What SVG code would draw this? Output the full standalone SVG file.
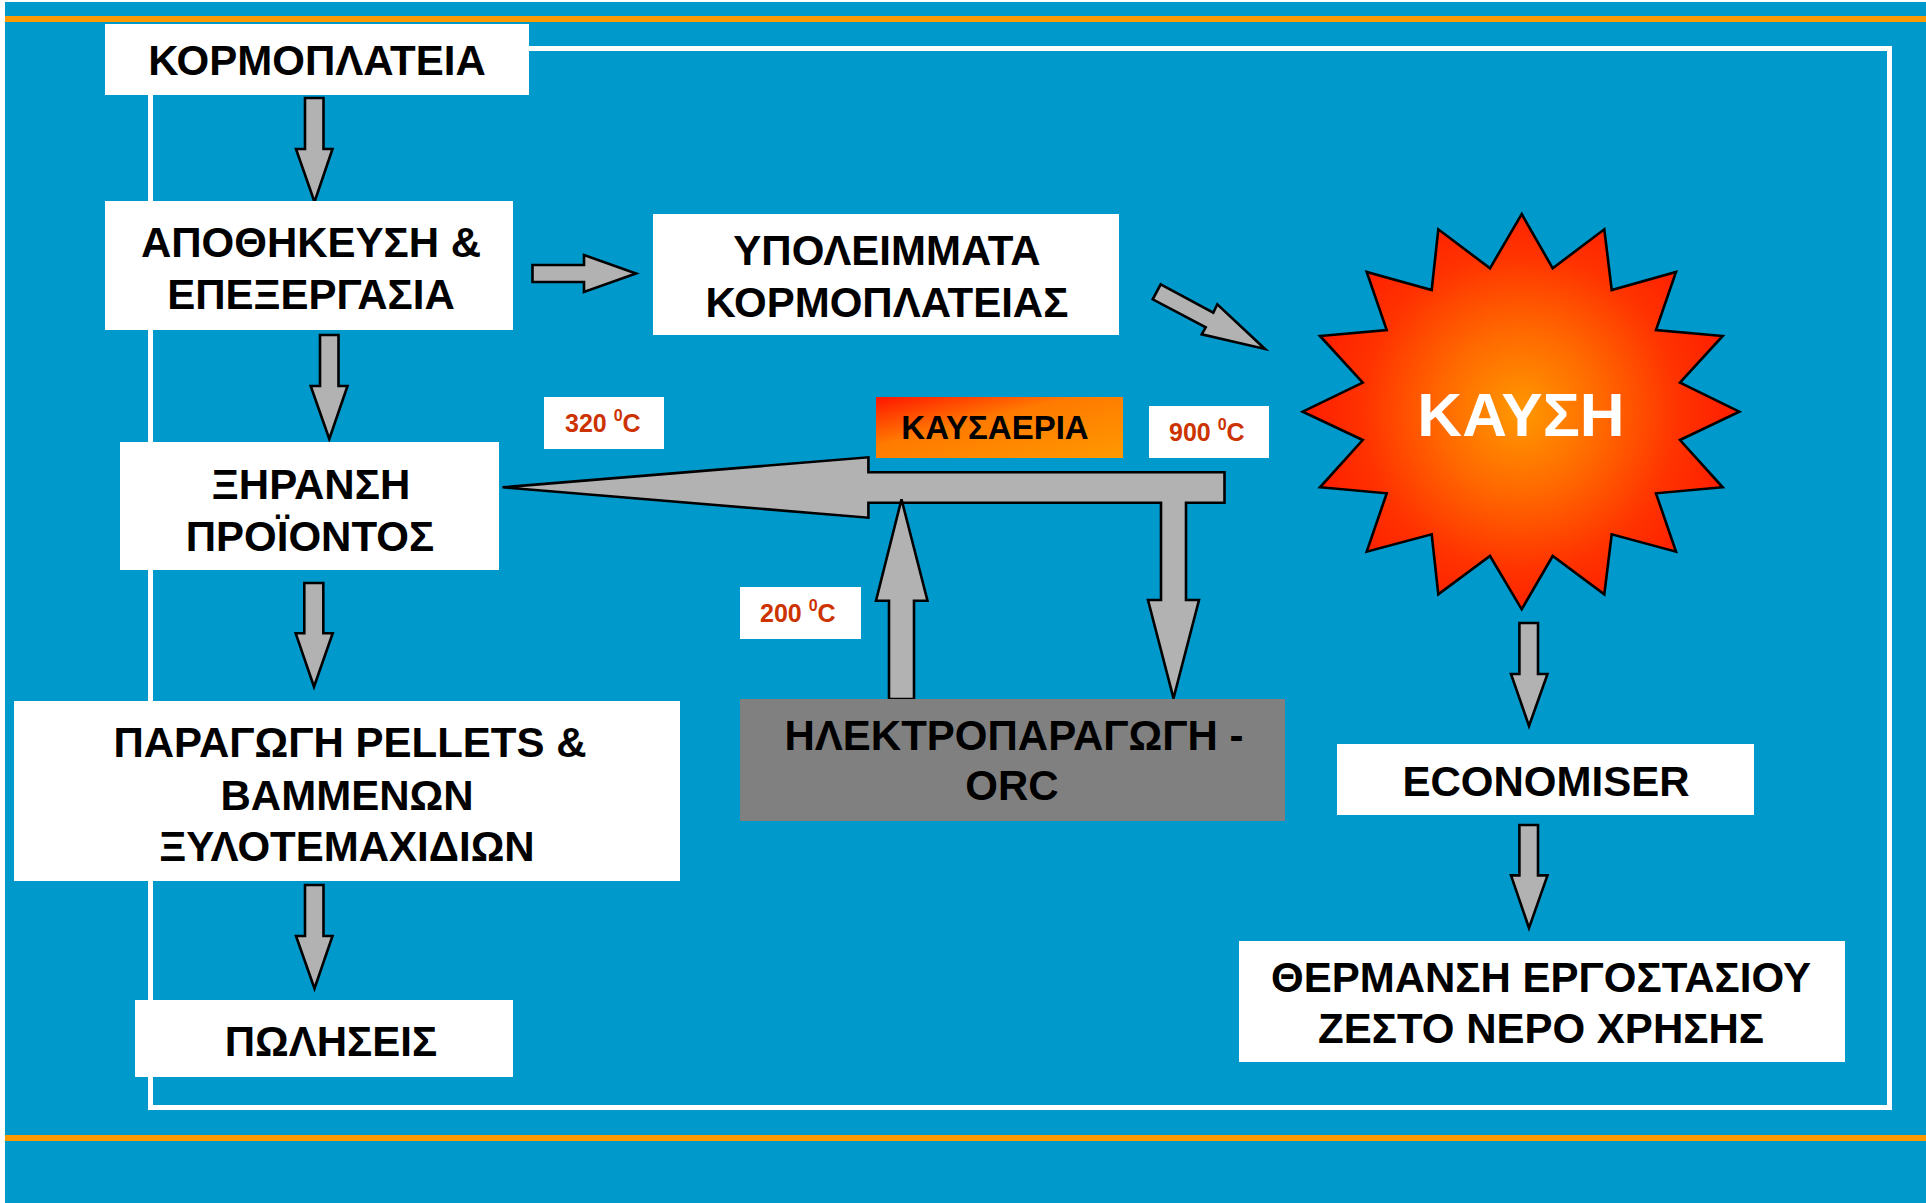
<svg xmlns="http://www.w3.org/2000/svg" width="1926" height="1203" viewBox="0 0 1926 1203">
<defs>
<style>
.box{fill:#ffffff;}
.lbl{font-family:"Liberation Sans",Arial,sans-serif;font-weight:bold;font-size:42px;fill:#000000;text-anchor:middle;}
.temp{font-family:"Liberation Sans",Arial,sans-serif;font-weight:bold;font-size:25px;fill:#CC3300;}
.sup{font-size:16px;}
.arrow{fill:#B2B2B2;stroke:#000000;stroke-width:2.6;stroke-linejoin:miter;}
</style>
<linearGradient id="gasGrad" x1="0" y1="0" x2="1" y2="1">
<stop offset="0" stop-color="#FF1500"/>
<stop offset="0.4" stop-color="#FF7A00"/>
<stop offset="1" stop-color="#FF9900"/>
</linearGradient>
<radialGradient id="fireGrad" gradientUnits="userSpaceOnUse" cx="1521" cy="412" r="225">
<stop offset="0" stop-color="#FF9900"/>
<stop offset="0.35" stop-color="#FF6A00"/>
<stop offset="0.7" stop-color="#FF3300"/>
<stop offset="1" stop-color="#FF1A00"/>
</radialGradient>
</defs>

<g id="background">
<rect x="0" y="0" width="1926" height="1203" fill="#ffffff"/>
<rect x="5" y="2" width="1921" height="1201" fill="#0099CC"/>
<rect x="5" y="16" width="1921" height="6" fill="#FF9900"/>
<rect x="5" y="1135" width="1921" height="6" fill="#FF9900"/>
<rect x="150.5" y="48.5" width="1739" height="1059" fill="none" stroke="#ffffff" stroke-width="5"/>
</g>

<g id="connectors">
<polygon class="arrow" points="305,98 323.5,98 323.5,149 332.5,149 314.5,202 296,149 305,149"/>
<polygon class="arrow" points="532.5,265 584,265 584,255 636,273.5 584,292 584,282 532.5,282"/>
<polygon class="arrow" points="320,335 338.5,335 338.5,386 347.5,386 329.3,439 310.7,386 320,386"/>
<polygon class="arrow" points="304.3,583 323.3,583 323.3,633.3 332.7,633.3 314,686.7 295.7,633.3 304.3,633.3"/>
<polygon class="arrow" points="305,885 323.5,885 323.5,936 332.5,936 314.5,988.5 296,936 305,936"/>
<polygon class="arrow" points="1160.7,284.3 1213.3,312.7 1217.3,304.3 1265,349 1201.7,334.3 1205.7,327.3 1152.7,299.3"/>
<polygon class="arrow" points="502.5,487.3 868.4,457.3 868.4,472.3 1224.5,472.3 1224.5,502.7 1186,502.7 1186,600 1199,600 1173.5,698.3 1148,600 1161,600 1161,502.7 868.4,502.7 868.4,517.7"/>
<polygon class="arrow" points="889,699 889,600.7 876,600.7 901.5,499.3 927.5,600.7 914,600.7 914,699"/>
<polygon class="arrow" points="1519.4,623 1538,623 1538,674 1547.5,674 1529,726 1511,674 1519.4,674"/>
<polygon class="arrow" points="1519.4,825 1538,825 1538,875.4 1547.5,875.4 1529,928 1511,875.4 1519.4,875.4"/>
</g>

<g id="node-kormoplateia">
<rect class="box" x="105" y="24" width="424" height="71"/>
<text class="lbl" x="317" y="75">ΚΟΡΜΟΠΛΑΤΕΙΑ</text>
</g>

<g id="node-apothikeusi">
<rect class="box" x="105" y="201" width="408" height="129"/>
<text class="lbl" x="311" y="257">ΑΠΟΘΗΚΕΥΣΗ &amp;</text>
<text class="lbl" x="311" y="309">ΕΠΕΞΕΡΓΑΣΙΑ</text>
</g>

<g id="node-ypoleimmata">
<rect class="box" x="653" y="214" width="466" height="121"/>
<text class="lbl" x="887" y="265">ΥΠΟΛΕΙΜΜΑΤΑ</text>
<text class="lbl" x="887" y="317">ΚΟΡΜΟΠΛΑΤΕΙΑΣ</text>
</g>

<g id="node-xiransi">
<rect class="box" x="120" y="442" width="379" height="128"/>
<text class="lbl" x="311" y="499">ΞΗΡΑΝΣΗ</text>
<text class="lbl" x="310" y="551">ΠΡΟΪΟΝΤΟΣ</text>
</g>

<g id="node-paragogi">
<rect class="box" x="14" y="701" width="666" height="180"/>
<text class="lbl" x="350" y="757">ΠΑΡΑΓΩΓΗ PELLETS &amp;</text>
<text class="lbl" x="347" y="810">ΒΑΜΜΕΝΩΝ</text>
<text class="lbl" x="347" y="861">ΞΥΛΟΤΕΜΑΧΙΔΙΩΝ</text>
</g>

<g id="node-poliseis">
<rect class="box" x="135" y="1000" width="378" height="77"/>
<text class="lbl" x="331" y="1056">ΠΩΛΗΣΕΙΣ</text>
</g>

<g id="node-kausaeria">
<rect x="876" y="397" width="247" height="61" fill="url(#gasGrad)"/>
<text class="lbl" x="995" y="439" style="font-size:33px">ΚΑΥΣΑΕΡΙΑ</text>
</g>

<g id="node-t320">
<rect class="box" x="544" y="397" width="120" height="52"/>
<text class="temp" x="565" y="432">320 <tspan class="sup" dy="-11">0</tspan><tspan dy="11">C</tspan></text>
</g>

<g id="node-t900">
<rect class="box" x="1149" y="406" width="120" height="52"/>
<text class="temp" x="1169" y="441">900 <tspan class="sup" dy="-11">0</tspan><tspan dy="11">C</tspan></text>
</g>

<g id="node-t200">
<rect class="box" x="740" y="587" width="121" height="52"/>
<text class="temp" x="760" y="622">200 <tspan class="sup" dy="-11">0</tspan><tspan dy="11">C</tspan></text>
</g>

<g id="node-orc">
<rect x="740" y="699" width="545" height="122" fill="#808080"/>
<text class="lbl" x="1014" y="750">ΗΛΕΚΤΡΟΠΑΡΑΓΩΓΗ -</text>
<text class="lbl" x="1012" y="800">ORC</text>
</g>

<g id="node-kausi">
<polygon fill="url(#fireGrad)" stroke="#000000" stroke-width="2.6" stroke-linejoin="miter" points="1521.7,214 1552.7,268.3 1604.3,229.3 1611.7,290 1676,272 1656,330 1722.7,336 1680,382.7 1739.3,411.7 1680,440 1722.7,487.3 1656,493.3 1676,551.7 1611.7,534.3 1604.3,594.3 1552.7,556 1521.7,609.3 1490,556 1438.3,594.3 1431.7,534.3 1366.7,551.7 1386.7,493.3 1320,487.3 1362.7,440 1302.7,411.7 1362.7,382.7 1320,336 1386.7,330 1366.7,272 1431.7,290 1438.3,229.3 1490,268.3"/>
<text x="1521" y="436" text-anchor="middle" style="font-family:'Liberation Sans',Arial,sans-serif;font-weight:bold;font-size:62px;fill:#ffffff">ΚΑΥΣΗ</text>
</g>

<g id="node-economiser">
<rect class="box" x="1337" y="744" width="417" height="71"/>
<text class="lbl" x="1546" y="796">ECONOMISER</text>
</g>

<g id="node-thermansi">
<rect class="box" x="1239" y="941" width="606" height="121"/>
<text class="lbl" x="1541" y="992">ΘΕΡΜΑΝΣΗ ΕΡΓΟΣΤΑΣΙΟΥ</text>
<text class="lbl" x="1541" y="1043">ΖΕΣΤΟ ΝΕΡΟ ΧΡΗΣΗΣ</text>
</g>
</svg>
